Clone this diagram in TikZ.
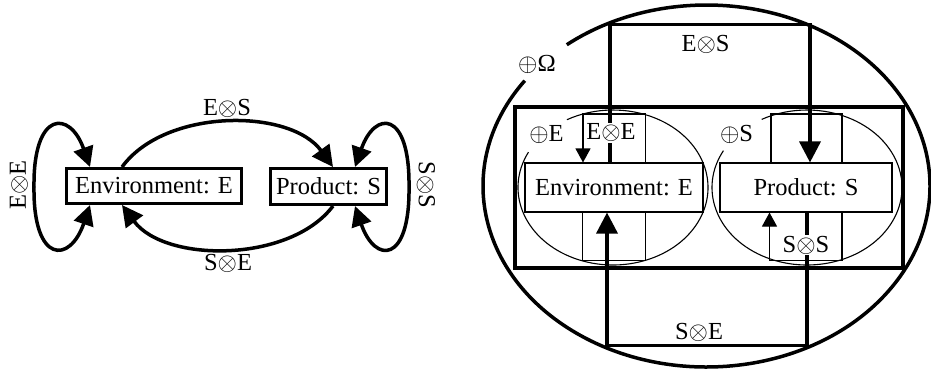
\documentclass[tikz,border=0pt]{standalone}
\usepackage{fontspec}
\setmainfont{Liberation Serif}
\usetikzlibrary{arrows.meta}
\newcommand{\tens}{\ensuremath{\otimes}}
\newcommand{\dsum}{\ensuremath{\oplus}}
\begin{document}
\begin{tikzpicture}[x=1pt,y=-1pt,
  every node/.style={font=\fontsize{24.5}{29}\selectfont, inner sep=1pt},
  boxL/.style={draw, line width=3pt, inner sep=0pt, fill=white},
  boxR/.style={draw, line width=1.1pt, inner sep=0pt, fill=white},
  bigtip/.style={-{Triangle[length=21pt,width=21pt]}},
  thinTip/.style={-{Triangle[length=14pt,width=15pt]}},
  heavy/.style={line width=3.5pt},
  light/.style={line width=1.1pt},
  lab/.style={fill=white, inner sep=1pt}]
\useasboundingbox (0,0) rectangle (931,370);

% ---------- left: state graph ----------
\node[boxL, minimum width=175pt, minimum height=35pt] (env) at (154,186) {Environment: E};
\node[boxL, minimum width=116pt, minimum height=36pt] (prod) at (328.5,186.5) {Product: S};

\draw[heavy, bigtip] ([xshift=-32pt]env.north) .. controls (165,108) and (290,108) .. ([xshift=4.5pt]prod.north);
\draw[heavy, bigtip] ([xshift=4.5pt]prod.south) .. controls (290,263) and (165,263) .. ([xshift=-32pt]env.south);

\draw[heavy, {Triangle[length=20pt,width=20pt]}-{Triangle[length=20pt,width=20pt]}]
  ([xshift=-64pt]env.north) .. controls (70,110) and (33,110) .. (34,187)
  .. controls (33,264) and (70,264) .. ([xshift=-64pt]env.south);
\draw[heavy, {Triangle[length=20pt,width=20pt]}-{Triangle[length=20pt,width=20pt]}]
  ([xshift=26.5pt]prod.north) .. controls (375,110) and (410,110) .. (409,187)
  .. controls (410,264) and (375,264) .. ([xshift=26.5pt]prod.south);

\node (lES) at (227,108) {E\tens S};
\node (lSE) at (228,263) {S\tens E};
\node[rotate=90] (lEE) at (19,185) {E\tens E};
\node[rotate=-90] (lSS) at (426,185) {S\tens S};

% ---------- right: nested spaces ----------
\coordinate (bigc) at (706.5,186);
\coordinate (ce) at (613,187.5);
\coordinate (cs) at (807,187.5);

\draw[line width=3.5pt] (bigc) ++(144.4:223.5pt and 181pt)
  arc[start angle=144.4, end angle=488.7, x radius=223.5pt, y radius=181pt];
\draw[line width=4pt] (515,107) rectangle (903,267.5);
\draw[light] (ce) ++(152.9:95pt and 77.5pt)
  arc[start angle=152.9, end angle=479, x radius=95pt, y radius=77.5pt];
\draw[light] (cs) ++(151.6:95pt and 77.5pt)
  arc[start angle=151.6, end angle=478.5, x radius=95pt, y radius=77.5pt];

\node[boxR, minimum width=178pt, minimum height=49pt] (envR) at (614,187.5) {Environment: E};
\node[boxR, minimum width=172pt, minimum height=49pt] (prodR) at (806,187.5) {Product: S};

% cross transitions
\draw[heavy, bigtip] ([xshift=-4pt]envR.north) -- ++(0,-138) -| ([xshift=4pt]prodR.north);
\draw[heavy, bigtip] ([xshift=1pt]prodR.south) -- ++(0,133) -| ([xshift=-7pt]envR.south);

% self transitions
\draw[light, thinTip] ([xshift=31.5pt]envR.north) -- ++(0,-48.5) -| ([xshift=-31pt]envR.north);
\draw[light] ([xshift=-31.5pt]envR.south) -- ++(0,47.5) -| ([xshift=31.5pt]envR.south);
\draw[light] ([xshift=-35pt]prodR.north) -- ++(0,-48.5) -| ([xshift=36pt]prodR.north);
\draw[light, thinTip] ([xshift=36pt]prodR.south) -- ++(0,47.5) -| ([xshift=-36.5pt]prodR.south);

\node (rES) at (705.5,44) {E\tens S};
\node (rSE) at (699,332) {S\tens E};
\node[lab] (rEE) at (611,133) {E\tens E};
\node[lab] (rSS) at (806,245) {S\tens S};
\node (oO) at (537,64.5) {\dsum Ω};
\node (oE) at (546.5,134.5) {\dsum E};
\node (oS) at (736.5,134.5) {\dsum S};
\end{tikzpicture}
\end{document}
